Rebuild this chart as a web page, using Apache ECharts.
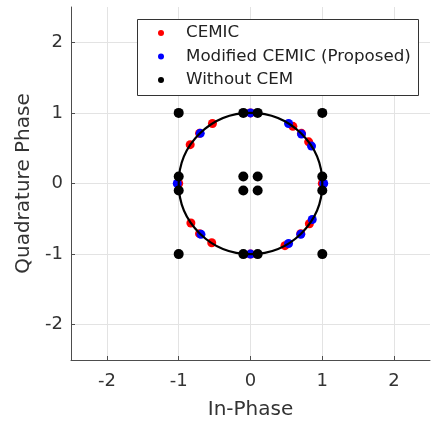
<!DOCTYPE html>
<html>
<head>
<meta charset="utf-8">
<script src="https://cdn.jsdelivr.net/npm/echarts@6/dist/echarts.min.js"></script>
<style>html,body{margin:0;padding:0;background:#fff;overflow:hidden;}#c{width:431px;height:425px;}</style>
</head>
<body>
<div id="c"></div>
<script>
// Series names
const seriesNames = ['CEMIC', 'Modified CEMIC (Proposed)', 'Without CEM'];
// CEMIC (red)
const cemicI = [1, 0.81, 0.71, 0.59, 0, -0.53, -0.71, -0.84, -1, -0.83, -0.71, -0.54, 0, 0.48, 0.70, 0.82];
const cemicQ = [0, 0.59, 0.71, 0.81, 1, 0.85, 0.71, 0.55, 0, -0.56, -0.71, -0.84, -1, -0.88, -0.71, -0.57];
// Modified CEMIC (blue)
const modI = [1.02, 0.85, 0.71, 0.53, 0, -0.70, -1.02, -0.69, 0, 0.53, 0.70, 0.86];
const modQ = [0, 0.53, 0.70, 0.85, 1, 0.71, 0, -0.72, -1, -0.85, -0.72, -0.51];
// Without CEM (black)
const woI = [-1, -0.1, 0.1, 1, -1, -0.1, 0.1, 1, -1, -0.1, 0.1, 1, -1, -0.1, 0.1, 1];
const woQ = [1, 1, 1, 1, 0.1, 0.1, 0.1, 0.1, -0.1, -0.1, -0.1, -0.1, -1, -1, -1, -1];
// Reference unit circle: center I, center Q, radius
const circleRef = [[0, 0, 1]];
// Axis range
const axisMin = -2.5, axisMax = 2.5;

const pairs = (a, b) => a.map((v, i) => [v, b[i]]);
const font = 'DejaVu Sans';
const axisColor = '#4d4d4d';
const textColor = '#333';

const el = document.getElementById('c');
const chart = echarts.init(el);
function mkAxis(name, gap, labelMargin) {
  return {
    type: 'value', min: axisMin, max: axisMax, splitNumber: 5,
    name: name, nameLocation: 'middle', nameGap: gap,
    nameTextStyle: { fontFamily: font, fontSize: 20, color: textColor },
    axisLine: { show: true, onZero: false, lineStyle: { color: axisColor, width: 1 } },
    axisTick: { show: true, inside: true, length: 4, lineStyle: { color: axisColor } },
    axisLabel: { showMinLabel: false, showMaxLabel: false, margin: labelMargin,
      fontFamily: font, fontSize: 18, color: textColor },
    splitLine: { show: true, showMinLine: false, showMaxLine: false, lineStyle: { color: '#e3e3e3', width: 1 } }
  };
}
chart.setOption({
  animation: false,
  backgroundColor: '#fff',
  grid: { left: 71, right: 1, top: 7, bottom: 60, containLabel: false },
  xAxis: mkAxis('In-Phase', 40, 12),
  yAxis: mkAxis('Quadrature Phase', 32, 8),
  legend: {
    data: seriesNames, orient: 'vertical', left: 158, top: 24, padding: 0,
    icon: 'circle', itemWidth: 6, itemHeight: 6, itemGap: 5.5, z: 10,
    textStyle: { fontFamily: font, fontSize: 16.7, color: '#222', lineHeight: 18, padding: [0, 0, 0, 17] }
  },
  graphic: [{
    type: 'rect', left: 137, top: 19, z: 9,
    shape: { width: 281, height: 76 },
    style: { fill: '#fff', stroke: '#333', lineWidth: 1 }
  }],
  series: [
    { name: seriesNames[0], type: 'scatter', data: pairs(cemicI, cemicQ), symbolSize: 9,
      itemStyle: { color: '#ff0000', opacity: 1 }, z: 2 },
    { name: seriesNames[1], type: 'scatter', data: pairs(modI, modQ), symbolSize: 9,
      itemStyle: { color: '#0000ff', opacity: 1 }, z: 3 },
    { name: 'circle', type: 'custom', data: circleRef, z: 4, silent: true,
      renderItem: function (params, api) {
        const c = api.coord([api.value(0), api.value(1)]);
        const ex = api.coord([api.value(0) + api.value(2), api.value(1)]);
        const ey = api.coord([api.value(0), api.value(1) + api.value(2)]);
        return { type: 'ellipse', shape: { cx: c[0], cy: c[1], rx: ex[0] - c[0], ry: c[1] - ey[1] },
          style: { fill: 'none', stroke: '#000', lineWidth: 2.2 } };
      } },
    { name: seriesNames[2], type: 'scatter', data: pairs(woI, woQ), symbolSize: 10,
      itemStyle: { color: '#000000', opacity: 1 }, z: 5 }
  ]
});
</script>
</body>
</html>
